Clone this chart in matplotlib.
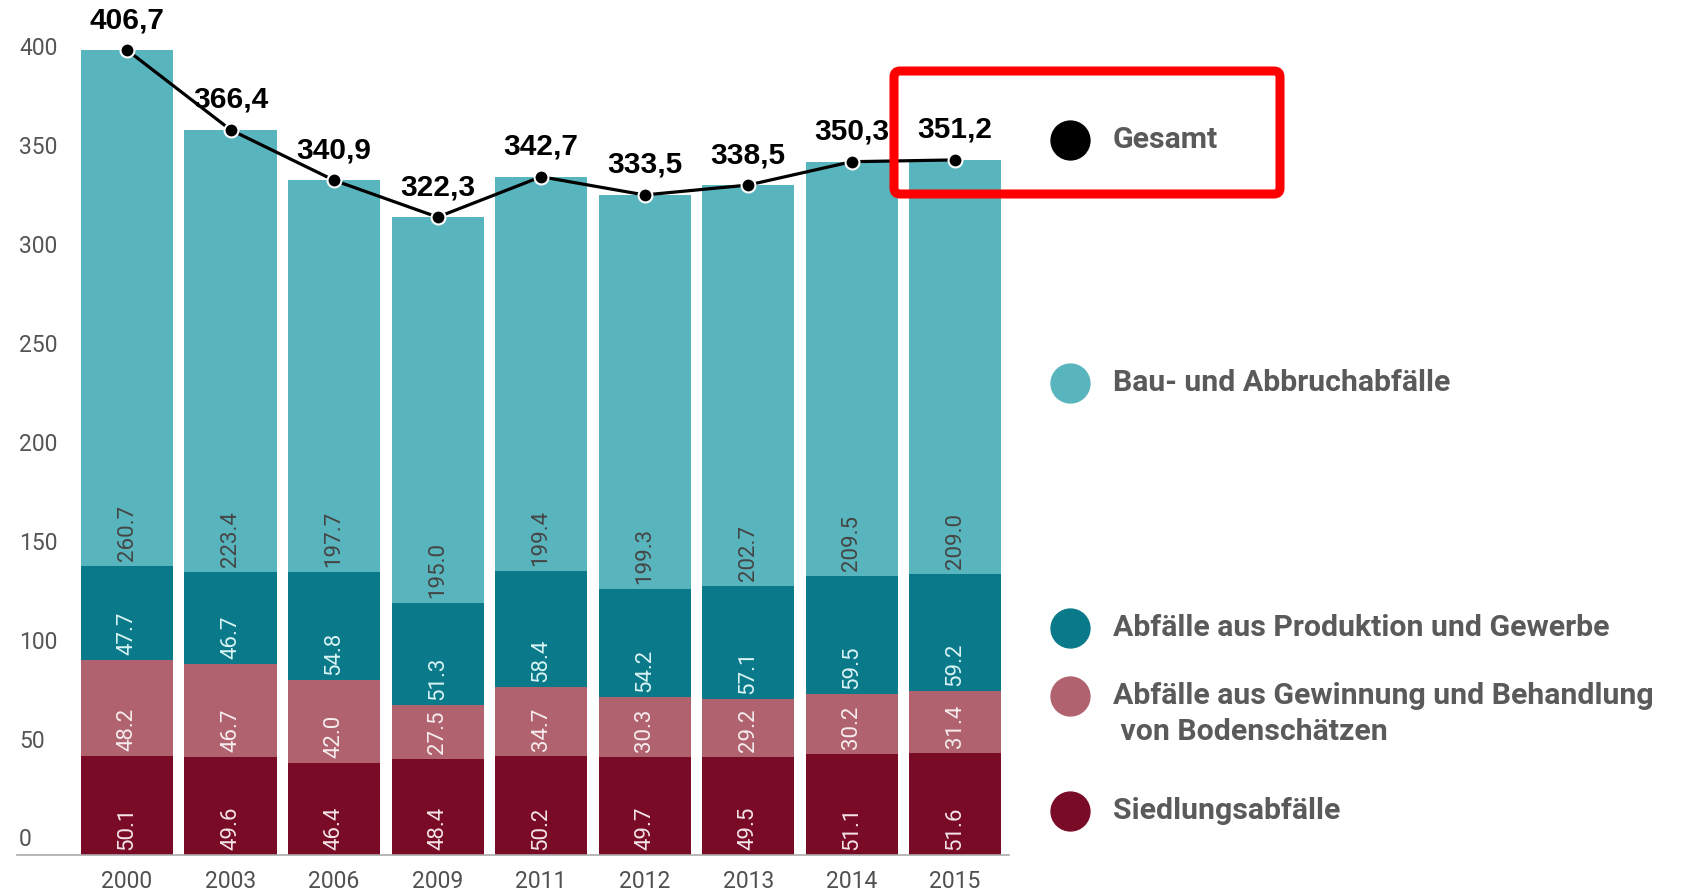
import matplotlib.pyplot as plt
from matplotlib.lines import Line2D
from matplotlib.patches import FancyBboxPatch

plt.rcParams['font.family'] = ['Roboto', 'DejaVu Sans']

years = ['2000', '2003', '2006', '2009', '2011', '2012', '2013', '2014', '2015']
siedlung = [50.1, 49.6, 46.4, 48.4, 50.2, 49.7, 49.5, 51.1, 51.6]
gewinnung = [48.2, 46.7, 42.0, 27.5, 34.7, 30.3, 29.2, 30.2, 31.4]
produktion = [47.7, 46.7, 54.8, 51.3, 58.4, 54.2, 57.1, 59.5, 59.2]
bau = [260.7, 223.4, 197.7, 195.0, 199.4, 199.3, 202.7, 209.5, 209.0]
gesamt = [406.7, 366.4, 340.9, 322.3, 342.7, 333.5, 338.5, 350.3, 351.2]
yticks = [0, 50, 100, 150, 200, 250, 300, 350, 400]

# bottom to top
layers = [
    ('Siedlungsabfälle', siedlung, '#7a0b27', '#f3e4e8'),
    ('Abfälle aus Gewinnung und Behandlung\n von Bodenschätzen', gewinnung, '#b0636f', '#f6ecee'),
    ('Abfälle aus Produktion und Gewerbe', produktion, '#0a7989', '#d9f3f4'),
    ('Bau- und Abbruchabfälle', bau, '#58b5bd', '#454545'),
]

W, H = 1683, 892
fig = plt.figure(figsize=(W / 100, H / 100), dpi=100)
ax = fig.add_axes([17 / W, (H - 855) / H, (1009 - 17) / W, 855 / H])

x = list(range(len(years)))
bottom = [0.0] * len(years)
for name, vals, color, tcol in layers:
    ax.bar(x, vals, width=0.89, bottom=bottom, color=color, zorder=2)
    for xi, b, v in zip(x, bottom, vals):
        ax.annotate(f'{v:.1f}', xy=(xi, b), xytext=(0, 5), textcoords='offset pixels',
                    rotation=90, ha='center', va='bottom', color=tcol, fontsize=16)
    bottom = [b + v for b, v in zip(bottom, vals)]

ax.plot(x, gesamt, color='black', lw=2.3, marker='o', markersize=10,
        markerfacecolor='black', markeredgecolor='white', markeredgewidth=1.5, zorder=4)
for xi, v in zip(x, gesamt):
    ax.annotate(f'{v:.1f}'.replace('.', ','), xy=(xi, v), xytext=(0, 30),
                textcoords='offset pixels', ha='center', va='center',
                fontsize=21.5, fontweight='bold', family='Liberation Sans',
                color='black', annotation_clip=False, zorder=5)

ax.set_xlim(-1.063, 8.52)
ax.set_ylim(0, 432)
ax.set_xticks(x)
ax.set_xticklabels(years, color='#505050', fontsize=16.5)
ax.tick_params(axis='x', length=0, pad=11)
ax.set_yticks([])
for v in yticks:
    ax.annotate(str(v), xy=(0, v), xycoords=ax.get_yaxis_transform(),
                xytext=(2, 15), textcoords='offset pixels', ha='left', va='center',
                color='#555555', fontsize=16.5)
for s in ['top', 'right', 'left']:
    ax.spines[s].set_visible(False)
ax.spines['bottom'].set_color('#aaaaaa')
ax.spines['bottom'].set_linewidth(1.2)

# legend on the right
legend_items = [
    ('Gesamt', 'black', 140),
    (layers[3][0], layers[3][2], 383),
    (layers[2][0], layers[2][2], 628),
    (layers[1][0], layers[1][2], 696),
    (layers[0][0], layers[0][2], 811),
]
for label, color, ypix in legend_items:
    fig.add_artist(Line2D([1070 / W], [1 - ypix / H], marker='o', markersize=28,
                          color=color, linestyle='none', transform=fig.transFigure))
    for i, line in enumerate(label.split('\n')):
        fig.text(1113 / W, 1 - (ypix + 36 * i) / H, line, ha='left', va='center',
                 fontsize=21.8, color='#5a5a5a', fontweight=600)

# red highlight box around "Gesamt"
box = FancyBboxPatch((8.94, (H - 194) / 100), 3.86, 1.23,
                     boxstyle='round,pad=0,rounding_size=0.06',
                     transform=fig.dpi_scale_trans, facecolor='none',
                     edgecolor='#ff0000', linewidth=6.5, zorder=10)
fig.add_artist(box)

fig.savefig('out.png', dpi=100)
